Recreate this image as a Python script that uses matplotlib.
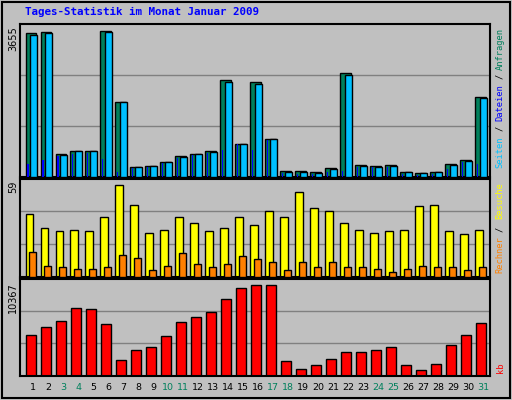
import matplotlib
matplotlib.use("Agg")
import matplotlib.pyplot as plt
import numpy as np

days = list(range(1, 32))
weekend = [3, 4, 10, 11, 17, 18, 24, 25, 31]
hits = [3440,3470,540,620,630,3490,1790,250,270,370,510,560,610,2310,800,2260,910,145,145,115,210,2480,290,270,280,125,105,125,300,395,1900]
files = [3400,3440,520,610,620,3460,1780,230,260,360,480,540,600,2270,790,2220,900,130,130,95,190,2440,270,250,270,110,95,110,290,380,1880]
pages = [300,400,500,560,580,420,110,220,250,330,450,520,570,650,780,640,880,100,60,60,120,150,230,240,250,80,50,70,200,350,300]
visits = [37.7,29.4,27.6,28.2,27.6,36,55,43.1,26.4,28.2,36,32.4,27.6,29.4,36,31.2,39.5,36,50.9,41.3,39.5,32.4,28.2,26.4,27.6,28.2,42.5,43.1,27.6,25.8,28.2]
hosts = [15.1,6.8,6.2,5,5,6.2,13.3,11.5,4.4,6.8,14.5,7.9,6.2,7.9,12.7,10.9,9.1,4.4,9.1,6.2,9.1,6.2,6.2,5,3.2,5,6.8,6.2,6.2,4.4,6.2]
kbytes = [4302,5148,5783,7158,7052,5466,1657,2715,3033,4196,5677,6206,6735,8110,9274,9662,9662,1622,776,1128,1763,2504,2504,2715,3033,1128,599,1234,3244,4302,5571]
max_hits = 3655
max_visits = 59
max_kb = 10367
title = "Tages-Statistik im Monat Januar 2009"

bg = "#C0C0C0"
fig = plt.figure(figsize=(5.12, 4.0), dpi=100, facecolor=bg)
d = np.array(days, dtype=float)
W, H = 512, 400

def mkax(top, bot):
    ax = fig.add_axes([20/W, (H-bot)/H, 470/W, (bot-top)/H], facecolor=bg)
    ax.set_xlim(0.133, 31.47)
    ax.set_xticks([]); ax.set_yticks([])
    for s in ax.spines.values():
        s.set_linewidth(1.5); s.set_color("black")
    return ax

ek = dict(edgecolor="black", linewidth=1.0, align="edge")
ax1 = mkax(24, 177)
ax1.set_ylim(0, max_hits)
for g in (max_hits/3, 2*max_hits/3):
    ax1.axhline(g, color="#808080", lw=1, zorder=0)
ax1.bar(d-0.5, hits, width=0.7, color="#00805C", **ek, zorder=2)
ax1.bar(d-0.23, files, width=0.48, color="#00C0FF", **ek, zorder=3)
ax1.bar(d-0.43, pages, width=0.13, color="#0000FF", edgecolor="#0000FF", linewidth=0, align="edge", zorder=4)

ax2 = mkax(179, 277)
ax2.set_ylim(0, max_visits*98/99)
for g in (max_visits/3, 2*max_visits/3):
    ax2.axhline(g, color="#808080", lw=1, zorder=0)
ax2.bar(d-0.5, visits, width=0.52, color="#FFFF00", **ek, zorder=2)
ax2.bar(d-0.25, hosts, width=0.47, color="#FF8000", **ek, zorder=3)

ax3 = mkax(279, 376)
ax3.set_ylim(0, max_kb*97/98)
for g in (max_kb/3, 2*max_kb/3):
    ax3.axhline(g, color="#808080", lw=1, zorder=0)
ax3.bar(d-0.45, kbytes, width=0.67, color="#FF0000", **ek, zorder=2)

mono = "DejaVu Sans Mono"
fig.text(25/W, 1-12/H, title, color="#0000FF", fontsize=7.8, fontweight="bold", family=mono, va="center", ha="left")
for txt, y in ((str(max_hits), 26), (str(max_visits), 181), (str(max_kb), 282)):
    fig.text(13/W, 1-y/H, txt, rotation=90, fontsize=7, va="top", ha="center", family="DejaVu Sans")

for day in days:
    xp = (20 + (day-0.133)*15) / W
    fig.text(xp, 1-388/H, str(day), fontsize=6.8, ha="center", va="center",
             color="#00805C" if day in weekend else "black")

pieces = [("Anfragen", 49, "#00805C"), ("/", 76, "#000000"), ("Dateien", 103, "#0000FF"),
          ("/", 128, "#000000"), ("Seiten", 152, "#00C0FF"), ("Besuche", 201, "#FFFF00"),
          ("/", 229, "#000000"), ("Rechner", 255, "#FF8000"), ("kb", 368, "#FF0000")]
for txt, y, c in pieces:
    fig.text(500/W, 1-y/H, txt, rotation=90, fontsize=6.3, family=mono, color=c, ha="center", va="center")

fig.patches.append(matplotlib.patches.Rectangle((0.003, 0.005), 0.994, 0.99, transform=fig.transFigure,
                   fill=False, edgecolor="black", linewidth=1.5))
fig.savefig("out.png", dpi=100, facecolor=bg)
